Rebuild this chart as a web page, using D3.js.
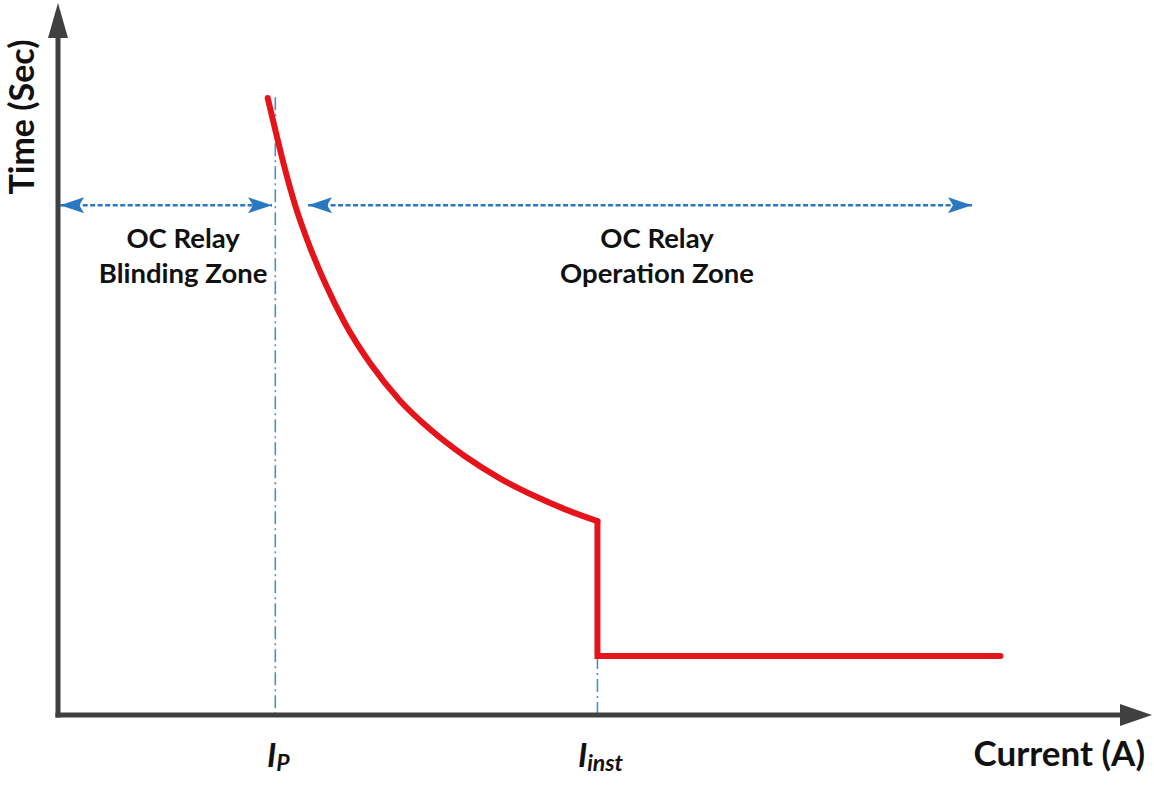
<!DOCTYPE html>
<html>
<head>
<meta charset="utf-8">
<script src="https://cdn.jsdelivr.net/npm/d3@7"></script>
<style>
  html, body { margin: 0; padding: 0; background: #fff; }
  svg { display: block; }
  text { font-family: Lato, "Open Sans", sans-serif; font-weight: bold; fill: #111; }
</style>
</head>
<body>
<svg id="chart"></svg>
<script>
// inverse time curve of the OC relay (current in arbitrary units, time in arbitrary units)
const curveCurrent = [1.92, 1.99, 2.08, 2.17, 2.31, 2.45, 2.63, 2.86, 3.13, 3.41, 3.73, 4.05, 4.37, 4.64, 4.94];
const curveTime    = [8.69, 8.24, 7.68, 7.19, 6.58, 6.07, 5.51, 4.95, 4.43, 4.02, 3.64, 3.33, 3.08, 2.90, 2.73];

// instantaneous element: step down at I_inst then flat
const instCurrent = [4.94, 4.94, 8.63];
const instTime    = [2.73, 0.83, 0.83];

// pickup and instantaneous currents
const markerNames  = ["P", "inst"];
const markerValues = [1.99, 4.94];
const markerTop    = [8.70, 0.83];

// zone arrows
const zoneNames = [["OC Relay", "Blinding Zone"], ["OC Relay", "Operation Zone"]];
const zoneFrom  = [0.02, 2.29];
const zoneTo    = [1.96, 8.37];
const zoneTime  = 7.18;

const width = 1154, height = 801;
const axisColor = "#404040", red = "#e5141b", blue = "#2a78c2";

const svg = d3.select("#chart")
    .attr("width", width)
    .attr("height", height)
    .attr("viewBox", [0, 0, width, height]);

const x = d3.scaleLinear().domain([0, 10]).range([58, 1150]);
const y = d3.scaleLinear().domain([0, 10]).range([715, 5]);

// arrow markers for the zone arrows
const defs = svg.append("defs");
defs.append("marker")
    .attr("id", "zoneHead")
    .attr("viewBox", "0 0 24 16")
    .attr("refX", 24).attr("refY", 8)
    .attr("markerWidth", 24).attr("markerHeight", 16)
    .attr("markerUnits", "userSpaceOnUse")
    .attr("orient", "auto-start-reverse")
    .append("path")
    .attr("d", "M0,0 L24,8 L0,16 L5,8 Z")
    .attr("fill", blue);

// marker dash-dot lines
svg.append("g").selectAll("line")
    .data(markerValues)
    .join("line")
    .attr("x1", d => x(d)).attr("x2", d => x(d))
    .attr("y1", (d, i) => y(markerTop[i]))
    .attr("y2", y(0))
    .attr("stroke", "#4a8fcb")
    .attr("stroke-width", 1.6)
    .attr("stroke-dasharray", "13 4 2 4");

// zone arrows
const zones = svg.append("g");
zoneFrom.forEach((f, i) => {
    zones.append("line")
        .attr("x1", x(f)).attr("x2", x(zoneTo[i]))
        .attr("y1", y(zoneTime)).attr("y2", y(zoneTime))
        .attr("stroke", blue)
        .attr("stroke-width", 2.6)
        .attr("stroke-dasharray", "5 2.5")
        .attr("marker-start", "url(#zoneHead)")
        .attr("marker-end", "url(#zoneHead)");

    const cx = (x(f) + x(zoneTo[i])) / 2 + 17;
    zones.append("text")
        .attr("text-anchor", "middle")
        .attr("font-size", 27.5)
        .selectAll("tspan")
        .data(zoneNames[i])
        .join("tspan")
        .attr("x", cx)
        .attr("y", (d, j) => y(zoneTime) + 43 + j * 35)
        .text(d => d);
});

// relay characteristic
svg.append("path")
    .datum(d3.zip(curveCurrent, curveTime))
    .attr("d", d3.line().x(d => x(d[0])).y(d => y(d[1])).curve(d3.curveMonotoneX))
    .attr("fill", "none")
    .attr("stroke", red)
    .attr("stroke-width", 6)
    .attr("stroke-linecap", "round");

svg.append("path")
    .datum(d3.zip(instCurrent, instTime))
    .attr("d", d3.line().x(d => x(d[0])).y(d => y(d[1])))
    .attr("fill", "none")
    .attr("stroke", red)
    .attr("stroke-width", 6)
    .attr("stroke-linecap", "round");

// axes with arrow heads
const axes = svg.append("g").attr("fill", axisColor);
axes.append("line")
    .attr("x1", x(0)).attr("x2", x(0))
    .attr("y1", y(0) + 2.5).attr("y2", y(10) + 30)
    .attr("stroke", axisColor).attr("stroke-width", 5);
axes.append("path")
    .attr("d", `M${x(0)},${y(10) - 2} L${x(0) + 10},${y(10) + 33} L${x(0) - 10},${y(10) + 33} Z`);
axes.append("line")
    .attr("x1", x(0) - 2.5).attr("x2", x(10) - 30)
    .attr("y1", y(0)).attr("y2", y(0))
    .attr("stroke", axisColor).attr("stroke-width", 5);
axes.append("path")
    .attr("d", `M${x(10) + 2},${y(0)} L${x(10) - 30},${y(0) - 11} L${x(10) - 30},${y(0) + 11} Z`);

// axis titles
svg.append("text")
    .attr("transform", `translate(${x(0) - 24},${y(10) + 112}) rotate(-90)`)
    .attr("text-anchor", "middle")
    .attr("font-size", 34)
    .text("Time (Sec)");

svg.append("text")
    .attr("x", 1145)
    .attr("y", 766)
    .attr("text-anchor", "end")
    .attr("font-size", 35)
    .text("Current (A)");

// current labels I_P and I_inst
const labels = svg.append("g").selectAll("text")
    .data(markerValues)
    .join("text")
    .attr("x", d => x(d) + 3)
    .attr("y", 767)
    .attr("text-anchor", "middle")
    .attr("font-style", "italic")
    .attr("font-size", 33);
labels.append("tspan").text("I");
labels.append("tspan")
    .attr("font-size", 23)
    .attr("dy", 4)
    .text((d, i) => markerNames[i]);
</script>
</body>
</html>
